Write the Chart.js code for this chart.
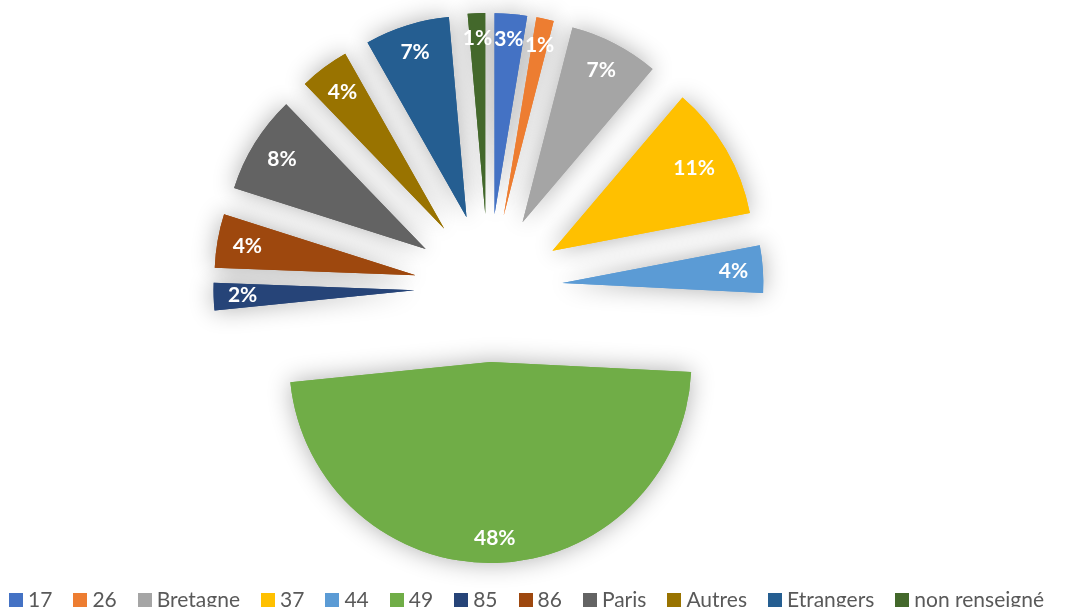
<!DOCTYPE html>
<html lang="fr">
<head>
<meta charset="utf-8">
<script src="https://cdn.jsdelivr.net/npm/chart.js@4/dist/chart.umd.min.js"></script>
<style>
    html, body { margin: 0; padding: 0; background: #fff; }
    #wrap { position: relative; width: 1066px; height: 607px; overflow: hidden; }
    #legend {
        position: absolute; left: 9px; top: 588px;
        display: flex; gap: 21px; white-space: nowrap;
        font: 21px Lato, "Open Sans", sans-serif; line-height: 21px; color: #595959;
    }
    #legend .item { display: flex; align-items: baseline; }
    #legend .box { display: inline-block; width: 14px; height: 14px; margin-right: 5px; }
</style>
</head>
<body>
<div id="wrap">
    <canvas id="chart" width="1066" height="607"></canvas>
    <div id="legend"></div>
</div>
<script>
// ── Données ──────────────────────────────────────────────────────────────────

const CATEGORIES = ['17', '26', 'Bretagne', '37', '44', '49', '85', '86', 'Paris', 'Autres', 'Etrangers', 'non renseigné'];
const SHARES = [2.6, 1.4, 7.2, 10.8, 3.8, 47.6, 2.2, 4.3, 7.9, 4.0, 6.8, 1.4];
const COLORS = ['#4472C4', '#ED7D31', '#A5A5A5', '#FFC000', '#5B9BD5', '#70AD47',
                '#264478', '#9E480E', '#636363', '#997300', '#255E91', '#43682B'];

const RADIUS = 201;    // rayon du camembert (px)
const EXPLODE = 74;    // éclatement de chaque part (px)

// ── Parts éclatées + ombre ───────────────────────────────────────────────────

function sliceShift(arc) {
    const mid = (arc.startAngle + arc.endAngle) / 2;
    return [Math.cos(mid) * EXPLODE, Math.sin(mid) * EXPLODE];
}

const explodedSlices = {
    id: 'explodedSlices',
    beforeDatasetDraw(chart, args) {
        const ctx = chart.ctx;
        const arcs = args.meta.data;
        // ombre douce d'abord, puis les parts par-dessus
        [true, false].forEach(withShadow => {
            arcs.forEach(arc => {
                const [dx, dy] = sliceShift(arc);
                ctx.save();
                if (withShadow) {
                    ctx.shadowColor = 'rgba(0,0,0,0.32)';
                    ctx.shadowBlur = 24;
                }
                ctx.translate(dx, dy);
                arc.draw(ctx);
                ctx.restore();
            });
        });
        return false;
    },
    afterDatasetsDraw(chart) {
        const ctx = chart.ctx;
        const arcs = chart.getDatasetMeta(0).data;
        const total = SHARES.reduce((a, b) => a + b, 0);
        ctx.save();
        ctx.font = 'bold 21px Lato, "Open Sans", sans-serif';
        ctx.fillStyle = '#fff';
        ctx.textAlign = 'center';
        ctx.textBaseline = 'middle';
        arcs.forEach((arc, i) => {
            const text = Math.round(SHARES[i] / total * 100) + '%';
            const mid = (arc.startAngle + arc.endAngle) / 2;
            const c = Math.cos(mid), s = Math.sin(mid);
            const hw = ctx.measureText(text).width / 2;
            const d = EXPLODE + arc.outerRadius - 14 - (Math.abs(hw * c) + Math.abs(10 * s));
            ctx.fillText(text, arc.x + c * d, arc.y + s * d);
        });
        ctx.restore();
    },
};

// ── Chart ────────────────────────────────────────────────────────────────────

new Chart(document.getElementById('chart'), {
    type: 'pie',
    data: {
        labels: CATEGORIES,
        datasets: [{
            data: SHARES,
            backgroundColor: COLORS,
            borderWidth: 0,
            radius: RADIUS,
        }],
    },
    options: {
        responsive: false,
        animation: false,
        events: [],
        layout: { padding: { left: 0, right: 89, top: 0, bottom: 31 } },
        plugins: {
            legend: { display: false },
            tooltip: { enabled: false },
        },
    },
    plugins: [explodedSlices],
});

// ── Légende ──────────────────────────────────────────────────────────────────

document.getElementById('legend').innerHTML = CATEGORIES.map((name, i) =>
    `<span class="item"><span class="box" style="background:${COLORS[i]}"></span>${name}</span>`
).join('');
</script>
</body>
</html>
